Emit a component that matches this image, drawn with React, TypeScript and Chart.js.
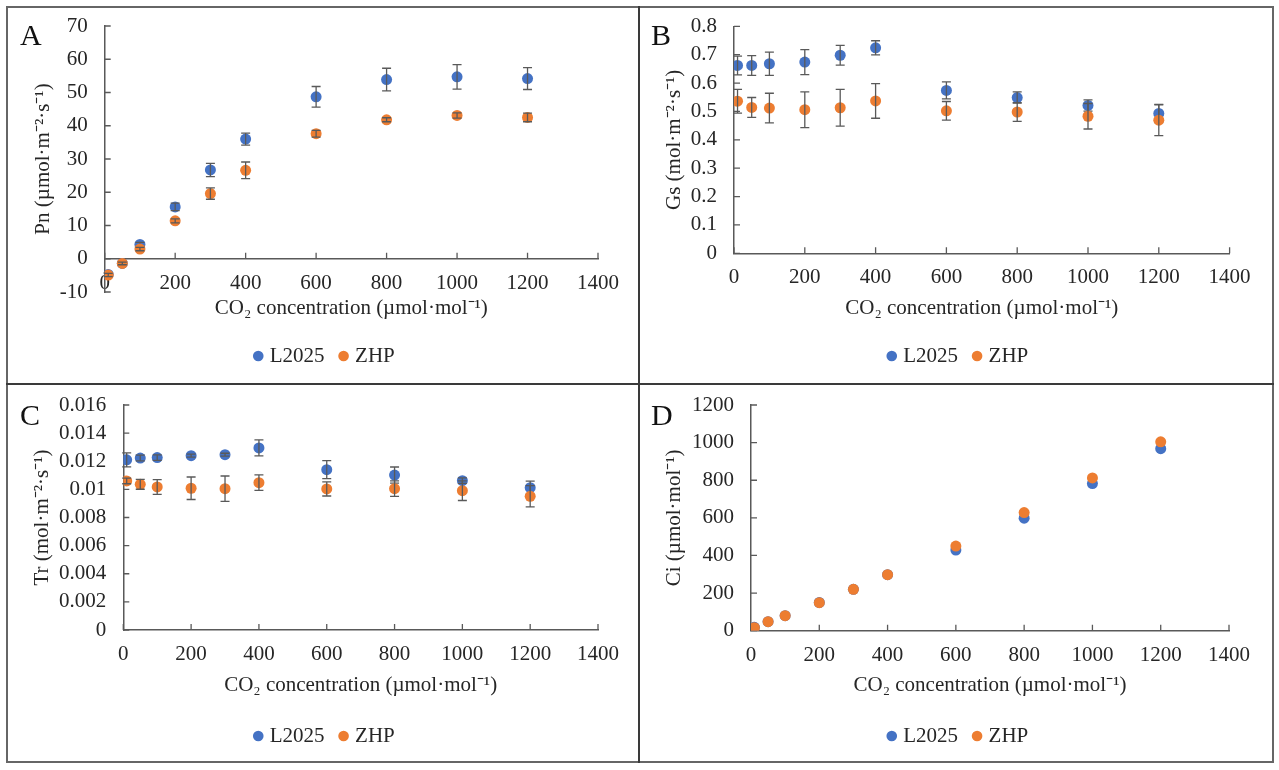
import React, { useEffect, useRef } from 'react';
import { Chart, registerables } from 'chart.js';

Chart.register(...registerables);

// ---------------- data ----------------
const co2 = [10, 50, 100, 200, 300, 400, 600, 800, 1000, 1200];
const seriesNames = ['L2025', 'ZHP'];

const pnL2025 = [-4.7, -1.4, 4.3, 15.6, 26.7, 36.0, 48.7, 53.9, 54.7, 54.2];
const pnL2025Err = [0.5, 0.5, 0.6, 1.1, 2.0, 1.8, 3.1, 3.4, 3.7, 3.3];
const pnZHP = [-4.9, -1.4, 2.9, 11.4, 19.6, 26.6, 37.6, 41.8, 43.1, 42.5];
const pnZHPErr = [0.5, 0.4, 0.5, 0.6, 1.7, 2.5, 1.0, 0.6, 0.8, 1.3];

const gsL2025 = [0.662, 0.662, 0.668, 0.674, 0.698, 0.724, 0.574, 0.549, 0.521, 0.493];
const gsL2025Err = [0.033, 0.035, 0.041, 0.044, 0.035, 0.025, 0.03, 0.02, 0.02, 0.032];
const gsZHP = [0.536, 0.514, 0.512, 0.506, 0.513, 0.537, 0.502, 0.498, 0.483, 0.469];
const gsZHPErr = [0.042, 0.035, 0.052, 0.063, 0.065, 0.061, 0.033, 0.033, 0.045, 0.054];

const trL2025 = [0.0121, 0.01223, 0.01226, 0.0124, 0.01247, 0.01295, 0.0114, 0.01102, 0.01062, 0.01012];
const trL2025Err = [0.0005, 0.0002, 0.0002, 0.0001, 0.0001, 0.00057, 0.00064, 0.00057, 0.0002, 0.00046];
const trZHP = [0.0106, 0.01036, 0.01017, 0.01008, 0.01005, 0.01048, 0.01003, 0.01005, 0.00991, 0.00951];
const trZHPErr = [0.0002, 0.00035, 0.00053, 0.0008, 0.0009, 0.00055, 0.0005, 0.00055, 0.0007, 0.00075];

const ciL2025 = [18, 48, 80, 150, 220, 298, 429, 598, 782, 968];
const ciZHP = [16, 48, 80, 149, 220, 298, 450, 628, 812, 1004];

const xTitle = 'CO\u2082 concentration (\u00b5mol\u00b7mol\u207b\u00b9)';
const xRange = { min: 0, max: 1400, step: 200 };
const pnRange = { min: -10, max: 70, step: 10 };
const gsRange = { min: 0, max: 0.8, step: 0.1 };
const trRange = { min: 0, max: 0.016, step: 0.002 };
const ciRange = { min: 0, max: 1200, step: 200 };

const pnTitle = 'Pn (\u00b5mol\u00b7m\u207b\u00b2\u00b7s\u207b\u00b9)';
const gsTitle = 'Gs (mol\u00b7m\u207b\u00b2\u00b7s\u207b\u00b9)';
const trTitle = 'Tr (mol\u00b7m\u207b\u00b2\u00b7s\u207b\u00b9)';
const ciTitle = 'Ci (\u00b5mol\u00b7mol\u207b\u00b9)';

// ---------------- styles ----------------
const FONT = "'Liberation Serif', 'Times New Roman', serif";
const TEXT = '#262626';
const AXIS = '#595959';
const ERR = '#595959';
const BLUE = '#4472C4';
const ORANGE = '#ED7D31';
const TICK_SIZE = 21;
const LH = TICK_SIZE * 1.2;
const LEG_SIZE = 21;
const LEG_PAD = 18;
const PAD_LEFT = 6;
const HALF_LAST_LABEL = 21; // half width of "1400"
const TRANSPARENT = 'rgba(0,0,0,0)';

Chart.defaults.font.family = FONT;
Chart.defaults.color = TEXT;

const fmt = (v: number) => String(parseFloat(Number(v).toFixed(6)));

const errorBarPlugin = {
  id: 'errorBars',
  afterDatasetDraw(chart: any, args: any) {
    const ds: any = chart.data.datasets[args.index];
    const errs: number[] | null = ds.errors;
    if (!errs) return;
    const xs = chart.scales.x;
    const ys = chart.scales.y;
    const ctx = chart.ctx;
    const cap = 4.5;
    ctx.save();
    ctx.strokeStyle = ERR;
    ctx.lineWidth = 1.3;
    ds.data.forEach((p: any, i: number) => {
      const e = errs[i];
      if (!e) return;
      const x = xs.getPixelForValue(p.x);
      const y1 = ys.getPixelForValue(p.y + e);
      const y2 = ys.getPixelForValue(p.y - e);
      ctx.beginPath();
      ctx.moveTo(x, y1);
      ctx.lineTo(x, y2);
      ctx.moveTo(x - cap, y1);
      ctx.lineTo(x + cap, y1);
      ctx.moveTo(x - cap, y2);
      ctx.lineTo(x + cap, y2);
      ctx.stroke();
    });
    ctx.restore();
  },
};

// inward tick marks on both axes
const innerTickPlugin = {
  id: 'innerTicks',
  beforeDatasetsDraw(chart: any) {
    const xs = chart.scales.x;
    const ys = chart.scales.y;
    const ctx = chart.ctx;
    const at = chart.options.scales.x.position.y;
    const axisY = ys.getPixelForValue(at);
    const len = 6;
    ctx.save();
    ctx.strokeStyle = AXIS;
    ctx.lineWidth = 1.3;
    ctx.beginPath();
    xs.ticks.forEach((t: any) => {
      const px = xs.getPixelForValue(t.value);
      ctx.moveTo(px, axisY);
      ctx.lineTo(px, axisY - len);
    });
    ys.ticks.forEach((t: any) => {
      const py = ys.getPixelForValue(t.value);
      ctx.moveTo(xs.left, py);
      ctx.lineTo(xs.left + len, py);
    });
    ctx.stroke();
    ctx.restore();
  },
};

type Range = { min: number; max: number; step: number };
type Spec = {
  letter: string;
  left: number;
  top: number;
  width: number;
  height: number;
  yTitle: string;
  yRange: Range;
  a: number[];
  aErr: number[] | null;
  b: number[];
  bErr: number[] | null;
  chartLeft: number;
  padRight: number;
  padTop: number;
  chartBottom: number;
  legendCenter: number;
  xTitleOffset: number;
  yTitleCenter: number;
  letterLeft: number;
  letterTop: number;
};

const panels: Spec[] = [
  {
    letter: 'A', left: 7, top: 7, width: 632, height: 376,
    yTitle: pnTitle, yRange: pnRange, a: pnL2025, aErr: pnL2025Err, b: pnZHP, bErr: pnZHPErr,
    chartLeft: 97.7, padRight: 41, padTop: 19, chartBottom: 285, legendCenter: 349,
    xTitleOffset: 49.3, yTitleCenter: 36, letterLeft: 20, letterTop: 20,
  },
  {
    letter: 'B', left: 640, top: 7, width: 633, height: 376,
    yTitle: gsTitle, yRange: gsRange, a: gsL2025, aErr: gsL2025Err, b: gsZHP, bErr: gsZHPErr,
    chartLeft: 94, padRight: 43.4, padTop: 19.3, chartBottom: 246.3, legendCenter: 349,
    xTitleOffset: 54.7, yTitleCenter: 34.7, letterLeft: 651, letterTop: 20,
  },
  {
    letter: 'C', left: 7, top: 385, width: 632, height: 377,
    yTitle: trTitle, yRange: trRange, a: trL2025, aErr: trL2025Err, b: trZHP, bErr: trZHPErr,
    chartLeft: 116.3, padRight: 41, padTop: 20, chartBottom: 245, legendCenter: 351,
    xTitleOffset: 55, yTitleCenter: 35.9, letterLeft: 20, letterTop: 400,
  },
  {
    letter: 'D', left: 640, top: 385, width: 633, height: 377,
    yTitle: ciTitle, yRange: ciRange, a: ciL2025, aErr: null, b: ciZHP, bErr: null,
    chartLeft: 111, padRight: 44, padTop: 20, chartBottom: 245.7, legendCenter: 351,
    xTitleOffset: 54.3, yTitleCenter: 34.7, letterLeft: 651, letterTop: 400,
  },
];

function Panel({ spec }: { spec: Spec }) {
  const ref = useRef<HTMLCanvasElement>(null);
  useEffect(() => {
    // legend: blank title used as spacer so the row sits at legendCenter
    const T = spec.legendCenter - spec.chartBottom - LEG_PAD - LEG_SIZE / 2;
    const legendHeight = T + LEG_SIZE + LEG_PAD + 10;
    const padBottom = spec.height - spec.chartBottom - legendHeight;
    const titleFont = 10;
    // x axis: ticks padding sets right margin of chart area
    const xTp = spec.padRight - HALF_LAST_LABEL;
    const xTl = 12 - xTp;
    const xTitlePad = spec.xTitleOffset - (xTl + 2 * xTp + LH + LH / 2);
    const yTitlePad = spec.yTitleCenter - PAD_LEFT - LH / 2;
    const xAt = spec.yRange.min < 0 ? 0 : spec.yRange.min;

    const chart = new Chart(ref.current as HTMLCanvasElement, {
      type: 'scatter',
      data: {
        datasets: [
          {
            label: seriesNames[0],
            data: co2.map((x, i) => ({ x, y: spec.a[i] })),
            backgroundColor: BLUE,
            borderColor: BLUE,
            pointRadius: 5.5,
            pointBorderWidth: 0,
            pointHoverRadius: 5.5,
            order: 1,
            errors: spec.aErr,
          } as any,
          {
            label: seriesNames[1],
            data: co2.map((x, i) => ({ x, y: spec.b[i] })),
            backgroundColor: ORANGE,
            borderColor: ORANGE,
            pointRadius: 5.5,
            pointBorderWidth: 0,
            pointHoverRadius: 5.5,
            order: 0,
            errors: spec.bErr,
          } as any,
        ],
      },
      options: {
        animation: false,
        responsive: true,
        maintainAspectRatio: false,
        events: [],
        layout: {
          padding: { left: PAD_LEFT, right: 0, top: spec.padTop, bottom: padBottom },
        },
        scales: {
          x: {
            type: 'linear',
            position: { y: xAt } as any,
            min: xRange.min,
            max: xRange.max,
            ticks: {
              stepSize: xRange.step,
              padding: xTp,
              maxRotation: 0,
              autoSkip: false,
              color: TEXT,
              font: { size: TICK_SIZE },
              callback: (v: any) => fmt(v),
            },
            grid: { display: true, drawOnChartArea: false, drawTicks: true, tickLength: xTl, tickColor: TRANSPARENT, color: TRANSPARENT },
            border: { display: true, color: AXIS, width: 1.5 },
            title: { display: true, text: xTitle, color: TEXT, font: { size: TICK_SIZE }, padding: { top: xTitlePad, bottom: 0 } },
          },
          y: {
            type: 'linear',
            position: 'left',
            min: spec.yRange.min,
            max: spec.yRange.max,
            ticks: {
              stepSize: spec.yRange.step,
              padding: 0,
              autoSkip: false,
              color: TEXT,
              font: { size: TICK_SIZE },
              callback: (v: any) => fmt(v),
            },
            grid: { display: true, drawOnChartArea: false, drawTicks: true, tickLength: 17, tickColor: TRANSPARENT, color: TRANSPARENT },
            border: { display: true, color: AXIS, width: 1.5 },
            title: { display: true, text: spec.yTitle, color: TEXT, font: { size: TICK_SIZE }, padding: { top: yTitlePad, bottom: 0 } },
            afterFit: (s: any) => {
              s.width = spec.chartLeft - PAD_LEFT;
            },
          },
        },
        plugins: {
          tooltip: { enabled: false },
          legend: {
            position: 'bottom',
            labels: {
              usePointStyle: true,
              pointStyle: 'circle',
              boxWidth: 2,
              boxHeight: 7.5,
              padding: LEG_PAD,
              color: TEXT,
              font: { size: LEG_SIZE },
              sort: (a: any, b: any) => a.datasetIndex - b.datasetIndex,
            },
            title: {
              display: true,
              text: '',
              font: { size: titleFont },
              padding: { top: T - titleFont * 1.2, bottom: 0 },
            },
          },
        },
      } as any,
      plugins: [innerTickPlugin as any, errorBarPlugin as any],
    });
    return () => chart.destroy();
  }, [spec]);
  return (
    <div style={{ position: 'absolute', left: spec.left, top: spec.top, width: spec.width, height: spec.height }}>
      <canvas ref={ref} />
    </div>
  );
}

export default function App() {
  return (
    <div style={{ position: 'absolute', left: 0, top: 0, width: 1279, height: 770, background: '#fff', overflow: 'hidden' }}>
      <div style={{ position: 'absolute', left: 6, top: 6, width: 1268, height: 757, border: '2px solid #666', boxSizing: 'border-box' }} />
      <div style={{ position: 'absolute', left: 638, top: 6, width: 2, height: 757, background: '#3a3a3a' }} />
      <div style={{ position: 'absolute', left: 6, top: 383, width: 1268, height: 2, background: '#3a3a3a' }} />
      {panels.map((p) => (
        <Panel key={p.letter} spec={p} />
      ))}
      {panels.map((p) => (
        <div
          key={'l' + p.letter}
          style={{ position: 'absolute', left: p.letterLeft, top: p.letterTop, fontFamily: FONT, fontSize: 30, lineHeight: 1, color: '#111' }}
        >
          {p.letter}
        </div>
      ))}
    </div>
  );
}
